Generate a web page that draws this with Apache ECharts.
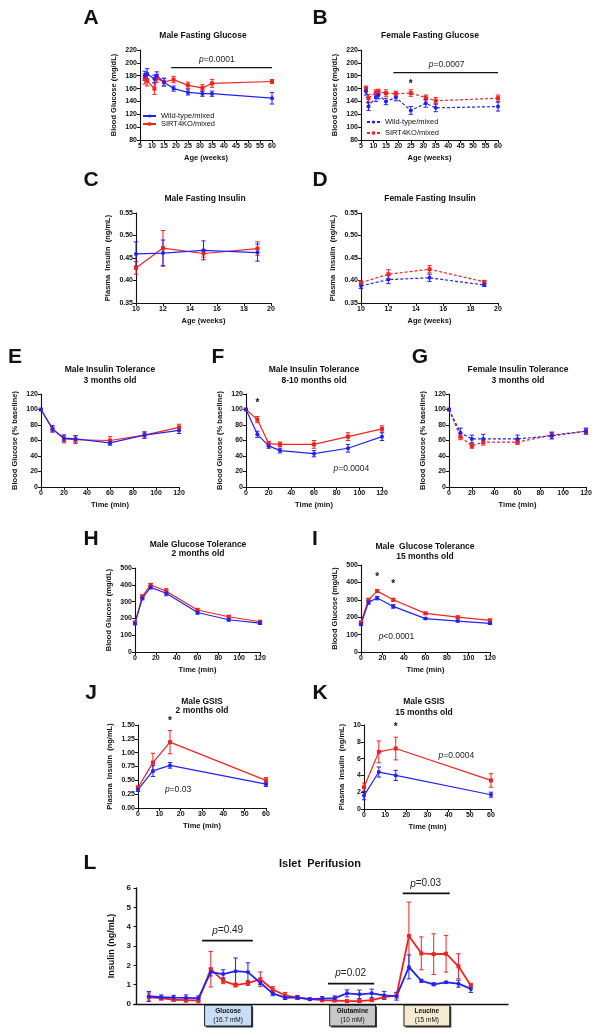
<!DOCTYPE html>
<html><head><meta charset="utf-8">
<script src="https://cdn.jsdelivr.net/npm/echarts@6/dist/echarts.min.js"></script>
<style>html,body{margin:0;padding:0;background:#fff}#c{width:601px;height:1036px}</style>
</head><body><div id="c"></div>
<script>
// ---------------- DATA ----------------
const ageGlucose = [7, 8, 11, 12, 15, 19, 25, 31, 35, 60];
const maleGluWT = [180, 183, 175, 180, 170, 160, 154, 152, 152, 145];
const maleGluWTerr = [7, 8, 6, 6, 6, 4, 4, 4, 4, 9];
const maleGluKO = [175, 172, 160, 176, 170, 174, 165, 161, 168, 171];
const maleGluKOerr = [8, 8, 9, 6, 6, 5, 5, 5, 6, 3];
const femGluWT = [156, 132, 147, 150, 140, 146, 126, 137, 130, 132];
const femGluWTerr = [6, 6, 7, 6, 5, 5, 6, 6, 6, 7];
const femGluKO = [160, 145, 154, 155, 153, 152, 153, 146, 141, 145];
const femGluKOerr = [4, 6, 4, 4, 5, 4, 5, 4, 5, 5];

const ageInsulin = [10, 12, 15, 19];
const maleInsWT = [0.459, 0.461, 0.467, 0.462];
const maleInsWTerr = [0.027, 0.029, 0.021, 0.019];
const maleInsKO = [0.428, 0.472, 0.460, 0.471];
const maleInsKOerr = [0.014, 0.039, 0.008, 0.015];
const femInsWT = [0.388, 0.402, 0.406, 0.390];
const femInsWTerr = [0.006, 0.009, 0.008, 0.003];
const femInsKO = [0.395, 0.414, 0.425, 0.397];
const femInsKOerr = [0.004, 0.010, 0.008, 0.003];

const ittTime = [0, 10, 20, 30, 60, 90, 120];
const ittMale3WT = [100, 75, 63, 62, 57, 67, 73];
const ittMale3WTerr = [0, 4, 4, 4, 3, 4, 4];
const ittMale3KO = [100, 75, 62, 61, 60, 67, 77];
const ittMale3KOerr = [0, 4, 5, 5, 5, 4, 4];
const ittMale8WT = [100, 68, 53, 47, 43, 50, 65];
const ittMale8WTerr = [0, 4, 3, 3, 4, 5, 5];
const ittMale8KO = [100, 87, 56, 55, 55, 65, 75];
const ittMale8KOerr = [0, 4, 3, 3, 5, 5, 4];
const ittFem3WT = [100, 70, 62, 62, 62, 66, 72];
const ittFem3WTerr = [0, 6, 5, 6, 5, 4, 4];
const ittFem3KO = [100, 65, 53, 58, 58, 67, 72];
const ittFem3KOerr = [0, 4, 3, 4, 3, 4, 3];

const gttTime = [0, 7, 15, 30, 60, 90, 120];
const gtt2WT = [170, 320, 385, 350, 235, 192, 172];
const gtt2WTerr = [8, 10, 10, 15, 10, 8, 8];
const gtt2KO = [175, 330, 400, 362, 250, 210, 180];
const gtt2KOerr = [8, 10, 8, 15, 10, 8, 8];
const gtt15WT = [160, 285, 310, 262, 192, 178, 165];
const gtt15WTerr = [8, 10, 10, 10, 5, 5, 6];
const gtt15KO = [170, 300, 350, 300, 222, 200, 182];
const gtt15KOerr = [5, 8, 8, 8, 6, 6, 6];

const gsisTime = [0, 7, 15, 60];
const gsis2WT = [0.33, 0.67, 0.77, 0.43];
const gsis2WTerr = [0.03, 0.10, 0.05, 0.04];
const gsis2KO = [0.37, 0.82, 1.19, 0.50];
const gsis2KOerr = [0.03, 0.17, 0.21, 0.05];
const gsis15WT = [1.6, 4.4, 4.0, 1.7];
const gsis15WTerr = [0.5, 0.6, 0.6, 0.3];
const gsis15KO = [2.6, 6.8, 7.2, 3.4];
const gsis15KOerr = [0.5, 1.3, 1.35, 0.8];

const perifusionFraction = [1,2,3,4,5,6,7,8,9,10,11,12,13,14,15,16,17,18,19,20,21,22,23,24,25,26,27];
const perifWT = [0.4, 0.35, 0.33, 0.32, 0.3, 1.65, 1.55, 1.7, 1.65, 1.1, 0.55, 0.33, 0.33, 0.25, 0.28, 0.3, 0.55, 0.5, 0.55, 0.45, 0.4, 1.92, 1.2, 1.02, 1.12, 1.05, 0.78];
const perifWTerr = [0.25, 0.12, 0.12, 0.15, 0.12, 0.2, 0.22, 0.68, 0.48, 0.1, 0.12, 0.1, 0.1, 0.05, 0.1, 0.12, 0.18, 0.22, 0.22, 0.2, 0.2, 0.62, 0.08, 0.08, 0.05, 0.18, 0.18];
const perifKO = [0.35, 0.3, 0.22, 0.2, 0.18, 1.8, 1.2, 0.98, 1.08, 1.28, 0.75, 0.45, 0.33, 0.25, 0.2, 0.18, 0.15, 0.15, 0.2, 0.35, 0.45, 3.52, 2.62, 2.58, 2.6, 1.95, 0.95];
const perifKOerr = [0.22, 0.1, 0.08, 0.1, 0.12, 0.92, 0.15, 0.1, 0.12, 0.38, 0.15, 0.15, 0.08, 0.05, 0.08, 0.05, 0.05, 0.05, 0.05, 0.1, 0.15, 1.75, 0.85, 1.05, 0.95, 0.65, 0.12];

// ---------------- STYLE / LAYOUT ----------------
const FONT = '"Liberation Sans", Arial, Helvetica, sans-serif';
const BLUE = '#2323f0';
const RED = '#f02323';
const BLACK = '#111';

const panels = [
  {grid:[140,50,132,90], x:[5,60,5], y:[80,220,20], dec:0, xName:'Age (weeks)', yName:'Blood Glucose (mg/dL)', nameGap:22,
   xs:ageGlucose, wt:maleGluWT, wte:maleGluWTerr, ko:maleGluKO, koe:maleGluKOerr, dashed:false, names:['Wild-type/mixed','SIRT4KO/mixed']},
  {grid:[361,50,137,90], x:[5,60,5], y:[80,220,20], dec:0, xName:'Age (weeks)', yName:'Blood Glucose (mg/dL)', nameGap:22,
   xs:ageGlucose, wt:femGluWT, wte:femGluWTerr, ko:femGluKO, koe:femGluKOerr, dashed:true, names:['Wild-type/mixed ','SIRT4KO/mixed ']},
  {grid:[136,213,135,90], x:[10,20,2], y:[0.35,0.55,0.05], dec:2, xName:'Age (weeks)', yName:'Plasma  Insulin  (ng/mL)', nameGap:24,
   xs:ageInsulin, wt:maleInsWT, wte:maleInsWTerr, ko:maleInsKO, koe:maleInsKOerr, dashed:false},
  {grid:[361,213,137,90], x:[10,20,2], y:[0.35,0.55,0.05], dec:2, xName:'Age (weeks)', yName:'Plasma  Insulin  (ng/mL)', nameGap:24,
   xs:ageInsulin, wt:femInsWT, wte:femInsWTerr, ko:femInsKO, koe:femInsKOerr, dashed:true},
  {grid:[41,394,138,93], x:[0,120,20], y:[0,120,20], dec:0, xName:'Time (min)', yName:'Blood Glucose (% baseline)', nameGap:22,
   xs:ittTime, wt:ittMale3WT, wte:ittMale3WTerr, ko:ittMale3KO, koe:ittMale3KOerr, dashed:false},
  {grid:[246,394,136,93], x:[0,120,20], y:[0,120,20], dec:0, xName:'Time (min)', yName:'Blood Glucose (% baseline)', nameGap:22,
   xs:ittTime, wt:ittMale8WT, wte:ittMale8WTerr, ko:ittMale8KO, koe:ittMale8KOerr, dashed:false},
  {grid:[449,394,137,93], x:[0,120,20], y:[0,120,20], dec:0, xName:'Time (min)', yName:'Blood Glucose (% baseline)', nameGap:22,
   xs:ittTime, wt:ittFem3WT, wte:ittFem3WTerr, ko:ittFem3KO, koe:ittFem3KOerr, dashed:true},
  {grid:[135,568,125,84], x:[0,120,20], y:[0,500,100], dec:0, xName:'Time (min)', yName:'Blood Glucose (mg/dL)', nameGap:22,
   xs:gttTime, wt:gtt2WT, wte:gtt2WTerr, ko:gtt2KO, koe:gtt2KOerr, dashed:false},
  {grid:[361,565,129,87], x:[0,120,20], y:[0,500,100], dec:0, xName:'Time (min)', yName:'Blood Glucose (mg/dL)', nameGap:22,
   xs:gttTime, wt:gtt15WT, wte:gtt15WTerr, ko:gtt15KO, koe:gtt15KOerr, dashed:false},
  {grid:[138,725,128,83], x:[0,60,10], y:[0,1.5,0.25], dec:2, xName:'Time (min)', yName:'Plasma  Insulin  (ng/mL)', nameGap:24,
   xs:gsisTime, wt:gsis2WT, wte:gsis2WTerr, ko:gsis2KO, koe:gsis2KOerr, dashed:false},
  {grid:[364,725,127,84], x:[0,60,10], y:[0,10,2], dec:0, xName:'Time (min)', yName:'Plasma  Insulin  (ng/mL)', nameGap:18,
   xs:gsisTime, wt:gsis15WT, wte:gsis15WTerr, ko:gsis15KO, koe:gsis15KOerr, dashed:false},
  {grid:[134,888,374,116], x:[-0.2,30,1], y:[0,6,1], dec:0, xName:'', yName:'Insulin (ng/mL)', nameGap:16, big:true,
   xs:perifusionFraction, wt:perifWT, wte:perifWTerr, ko:perifKO, koe:perifKOerr, dashed:false}
];

function errRender(params, api) {
  const x = api.value(0), lo = api.value(1), hi = api.value(2);
  if (hi - lo <= 0) return null;
  const p1 = api.coord([x, hi]), p2 = api.coord([x, lo]);
  const w = 2.2;
  const style = {stroke: api.visual('color'), lineWidth: 1};
  return {type: 'group', children: [
    {type: 'line', shape: {x1: p1[0], y1: p1[1], x2: p2[0], y2: p2[1]}, style: style},
    {type: 'line', shape: {x1: p1[0]-w, y1: p1[1], x2: p1[0]+w, y2: p1[1]}, style: style},
    {type: 'line', shape: {x1: p2[0]-w, y1: p2[1], x2: p2[0]+w, y2: p2[1]}, style: style}
  ]};
}

const grids = [], xAxes = [], yAxes = [], series = [];
panels.forEach((p, i) => {
  grids.push({left: p.grid[0], top: p.grid[1], width: p.grid[2], height: p.grid[3], containLabel: false});
  const axisCommon = {
    axisLine: {show: true, lineStyle: {color: BLACK, width: p.big ? 1.4 : 1.1}},
    axisTick: {show: true, inside: false, length: 3, lineStyle: {color: BLACK, width: 1}},
    splitLine: {show: false},
    axisLabel: {fontFamily: FONT, fontSize: p.big ? 8 : 7, fontWeight: 'bold', color: BLACK, margin: 3},
    nameTextStyle: {fontFamily: FONT, fontSize: p.big ? 9 : 7.5, fontWeight: 'bold', color: BLACK}
  };
  xAxes.push(Object.assign({}, axisCommon, {
    gridIndex: i, type: 'value', min: p.x[0], max: p.x[1], interval: p.x[2],
    name: p.xName, nameLocation: 'middle', nameGap: 14,
    axisTick: p.big ? {show: false} : axisCommon.axisTick,
    axisLabel: p.big ? {show: false} : axisCommon.axisLabel
  }));
  yAxes.push(Object.assign({}, axisCommon, {
    gridIndex: i, type: 'value', min: p.y[0], max: p.y[1], interval: p.y[2],
    name: p.yName, nameLocation: 'middle', nameGap: p.nameGap,
    axisLabel: Object.assign({}, axisCommon.axisLabel, {formatter: v => v.toFixed(p.dec)})
  }));
  const lw = p.big ? 1.8 : 1.2;
  const lt = p.dashed ? [3, 2] : 'solid';
  const defs = [
    {vals: p.ko, errs: p.koe, color: RED, sym: 'rect', name: p.names ? p.names[1] : 'ko' + i},
    {vals: p.wt, errs: p.wte, color: BLUE, sym: 'circle', name: p.names ? p.names[0] : 'wt' + i}
  ];
  defs.forEach(d => {
    series.push({
      type: 'custom', xAxisIndex: i, yAxisIndex: i, renderItem: errRender, silent: true,
      itemStyle: {color: d.color}, encode: {x: 0, y: [1, 2]}, clip: false,
      data: p.xs.map((x, k) => [x, d.vals[k] - d.errs[k], d.vals[k] + d.errs[k]]),
      z: 2
    });
    series.push({
      type: 'line', name: d.name, xAxisIndex: i, yAxisIndex: i,
      data: p.xs.map((x, k) => [x, d.vals[k]]),
      symbol: d.sym, symbolSize: p.big ? 4 : 4, showSymbol: true,
      itemStyle: {color: d.color},
      lineStyle: {color: d.color, width: lw, type: lt},
      animation: false, z: 3
    });
  });
});

const legendCommon = {orient: 'vertical', itemWidth: 13, itemHeight: 4, padding: 0, selectedMode: false,
  textStyle: {fontFamily: FONT, fontSize: 7.5, color: BLACK}};

const chart = echarts.init(document.getElementById('c'), null, {renderer: 'canvas'});
chart.setOption({
  backgroundColor: '#fff',
  animation: false,
  grid: grids, xAxis: xAxes, yAxis: yAxes, series: series,
  legend: [
    Object.assign({}, legendCommon, {left: 142, top: 112, itemGap: 0, data: ['Wild-type/mixed', 'SIRT4KO/mixed']}),
    Object.assign({}, legendCommon, {left: 366, top: 118, itemGap: 3, data: ['Wild-type/mixed ', 'SIRT4KO/mixed ']})
  ]
});

// ---------------- ANNOTATIONS ----------------
const g = [];
function txt(x, y, text, font, align, extra) {
  g.push(Object.assign({type: 'text', x: x, y: y, silent: true, style: {text: text, font: font, fill: BLACK,
    align: align || 'center', verticalAlign: 'middle'}}, extra || {}));
}
const letters = [['A',91,18],['B',320,18],['C',91,180],['D',320,180],['E',15,357],['F',218,357],['G',420,357],
  ['H',91,539],['I',315,539],['J',91,693],['K',320,693],['L',90,863]];
letters.forEach(l => txt(l[1], l[2], l[0], 'bold 21px ' + FONT));
const titles = [
  ['Male Fasting Glucose', 203, 36], ['Female Fasting Glucose', 430, 36],
  ['Male Fasting Insulin', 205, 199], ['Female Fasting Insulin', 430, 199],
  ['Male Insulin Tolerance', 110, 370], ['3 months old', 110, 381],
  ['Male Insulin Tolerance', 314, 370], ['8-10 months old', 314, 381],
  ['Female Insulin Tolerance', 518, 370], ['3 months old', 518, 381],
  ['Male Glucose Tolerance', 198, 545], ['2 months old', 198, 554],
  ['Male  Glucose Tolerance', 425, 547], ['15 months old', 425, 557],
  ['Male GSIS', 202, 702], ['2 months old', 202, 711],
  ['Male GSIS', 424, 702], ['15 months old', 424, 712.5]
];
titles.forEach(t => txt(t[1], t[2], t[0], 'bold 8.5px ' + FONT));
txt(320, 864, 'Islet  Perifusion', 'bold 11px ' + FONT);

function px(gi, x, y) { return chart.convertToPixel({gridIndex: gi}, [x, y]); }
function pline(gi, x1, x2, y, w) {
  const a = px(gi, x1, y), b = px(gi, x2, y);
  g.push({type: 'line', silent: true, shape: {x1: a[0], y1: a[1], x2: b[0], y2: b[1]}, style: {stroke: BLACK, lineWidth: w || 1.2}});
}
function ptext(gi, x, y, val, size) {
  const a = px(gi, x, y);
  g.push({type: 'text', x: a[0], y: a[1], silent: true, style: {
    text: '{i|p}' + val, font: size + 'px ' + FONT, fill: '#222', align: 'center', verticalAlign: 'middle',
    rich: {i: {fontStyle: 'italic', fontSize: size, fontFamily: FONT, fill: '#222'}}}});
}
function star(gi, x, y) {
  const a = px(gi, x, y);
  txt(a[0], a[1], '*', 'bold 10px ' + FONT);
}
pline(0, 18, 60, 192.5); ptext(0, 37, 204.5, '=0.0001', 8.5);
pline(1, 18, 60, 184.7); ptext(1, 39.4, 196.7, '=0.0007', 8.5); star(1, 25, 167);
star(5, 10, 108); ptext(5, 93, 24, '=0.0004', 8.5);
star(8, 15, 432); star(8, 30, 392); ptext(8, 33, 86, '<0.0001', 8.5);
star(9, 15, 1.56); ptext(9, 18.75, 0.34, '=0.03', 8.5);
star(10, 15, 9.7); ptext(10, 43.6, 6.4, '=0.0004', 8.5);
pline(11, 5.3, 9.4, 3.28, 1.8); ptext(11, 7.37, 3.79, '=0.49', 10);
pline(11, 15.46, 19.2, 1.05, 1.8); ptext(11, 17.3, 1.57, '=0.02', 10);
pline(11, 21.5, 25.3, 5.72, 1.8); ptext(11, 23.35, 6.22, '=0.03', 10);

const boxes = [
  [5.5, 9.3, '#c9def6', 'Glucose', '(16.7 mM)'],
  [15.6, 19.3, '#c8c8c8', 'Glutamine', '(10 mM)'],
  [21.6, 25.3, '#f3ead0', 'Leucine', '(15 mM)']
];
boxes.forEach(b => {
  const a = px(11, b[0], 0), c = px(11, b[1], 0);
  const top = 1005, h = 21;
  g.push({type: 'rect', silent: true, shape: {x: a[0] + 1.5, y: top + 1.5, width: c[0] - a[0], height: h}, style: {fill: '#333'}});
  g.push({type: 'rect', silent: true, shape: {x: a[0], y: top, width: c[0] - a[0], height: h}, style: {fill: b[2], stroke: '#222', lineWidth: 1}});
  const cx = (a[0] + c[0]) / 2;
  txt(cx, top + 6, b[3], 'bold 6.5px ' + FONT);
  txt(cx, top + 15, b[4], '6.5px ' + FONT);
});
chart.setOption({graphic: g});
</script>
</body></html>
